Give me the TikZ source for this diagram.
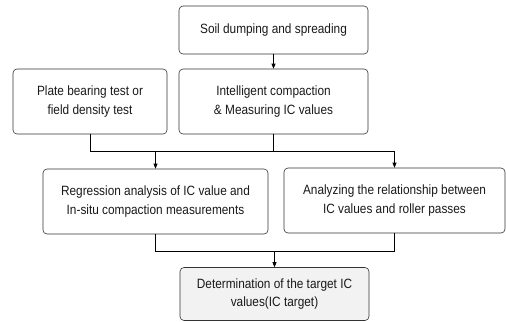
\documentclass[tikz,border=0pt]{standalone}
\usepackage{fontspec}
\setmainfont[FakeStretch=0.88]{Liberation Sans}
\usetikzlibrary{arrows.meta,positioning}
\tikzset{
 stepbox/.style={draw=black!80,rounded corners=4pt,align=center,font=\fontsize{13.5}{18.5}\selectfont,text=black!90,inner sep=2pt},
 arr/.style={-{Triangle[length=5pt,width=4pt]}}
}
\begin{document}
\begin{tikzpicture}[x=1bp,y=-1bp,line width=0.6pt]
\useasboundingbox (0,0) rectangle (506,321);
\node[stepbox,minimum width=189bp,minimum height=48bp] (soil) at (273.5,30) {Soil dumping and spreading};
\node[stepbox,minimum width=154bp,minimum height=65bp] (plate) at (90,101.5) {Plate bearing test or\\field density test};
\node[stepbox,minimum width=189bp,minimum height=65bp] (ic) at (273.5,101.5) {Intelligent compaction\\\& Measuring IC values};
\node[stepbox,minimum width=225bp,minimum height=65bp] (reg) at (155.5,201.5) {Regression analysis of IC value and\\In-situ compaction measurements};
\node[stepbox,minimum width=221bp,minimum height=65bp] (ana) at (394.5,200.5) {Analyzing the relationship between\\IC values and roller passes};
\node[stepbox,fill=black!5,minimum width=189bp,minimum height=53bp] (det) at (274.5,294) {Determination of the target IC\\values(IC target)};
\coordinate (top) at (0,151);
\coordinate (bot) at (0,251);
\draw[arr] (soil) -- (ic);
\draw (plate.south) |- (ana.north |- top);
\draw (ic.south) -- (ic.south |- top);
\draw[arr] (reg.north |- top) -- (reg.north);
\draw[arr] (ana.north |- top) -- (ana.north);
\draw (reg.south) |- (ana.south |- bot) -- (ana.south);
\draw[arr] (det.north |- bot) -- (det.north);
\end{tikzpicture}
\end{document}
